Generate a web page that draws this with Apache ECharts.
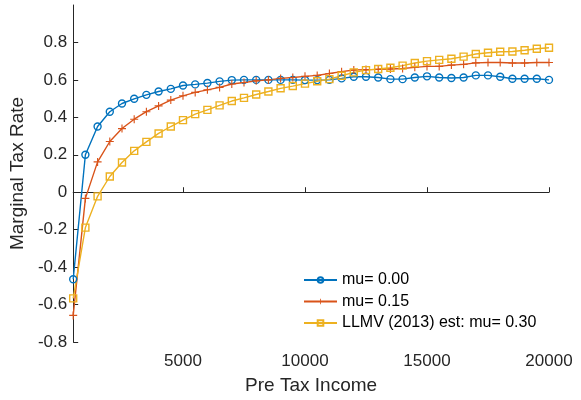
<!DOCTYPE html>
<html>
<head>
<meta charset="utf-8">
<script src="https://cdn.jsdelivr.net/npm/echarts@6/dist/echarts.min.js"></script>
<style>html,body{margin:0;padding:0;background:#fff;}#c{width:581px;height:400px;}</style>
</head>
<body>
<div id="c"></div>
<script>
// Pre-tax income grid (x values)
const income = [500,1000,1500,2000,2500,3000,3500,4000,4500,5000,
  5500,6000,6500,7000,7500,8000,8500,9000,9500,10000,
  10500,11000,11500,12000,12500,13000,13500,14000,14500,15000,
  15500,16000,16500,17000,17500,18000,18500,19000,19500,20000];
const mu000 = [-0.465,0.20,0.351,0.43,0.474,0.499,0.52,0.538,0.552,0.570,
  0.576,0.583,0.592,0.599,0.600,0.600,0.600,0.600,0.600,0.599,
  0.599,0.600,0.608,0.617,0.617,0.613,0.604,0.604,0.613,0.619,
  0.613,0.610,0.613,0.624,0.624,0.617,0.606,0.606,0.606,0.600];
const mu015 = [-0.658,-0.033,0.162,0.271,0.340,0.390,0.430,0.461,0.492,0.515,
  0.533,0.547,0.560,0.578,0.586,0.595,0.600,0.608,0.613,0.619,
  0.624,0.634,0.644,0.653,0.655,0.656,0.658,0.661,0.667,0.672,
  0.672,0.679,0.683,0.691,0.693,0.693,0.690,0.690,0.693,0.693];
const mu030 = [-0.567,-0.189,-0.022,0.084,0.159,0.221,0.269,0.314,0.351,0.385,
  0.417,0.440,0.464,0.487,0.504,0.522,0.538,0.555,0.567,0.580,
  0.593,0.604,0.622,0.640,0.652,0.658,0.665,0.676,0.690,0.700,
  0.707,0.713,0.724,0.738,0.745,0.750,0.752,0.758,0.766,0.772];
const seriesNames = ['mu= 0.00','mu= 0.15','LLMV (2013) est: mu= 0.30'];
const xTicks = [5000,10000,15000,20000];
const yTicks = [-0.8,-0.6,-0.4,-0.2,0,0.2,0.4,0.6,0.8];

const pair = (ys) => income.map((x,i) => [x, ys[i]]);
const axisCol = '#262626';
const font = 'Liberation Sans, Arial, Helvetica, sans-serif';
const plusPath = 'path://M4.3,0H5.7V4.3H10V5.7H5.7V10H4.3V5.7H0V4.3H4.3Z';

const chart = echarts.init(document.getElementById('c'), null, {renderer:'canvas'});
chart.setOption({
  animation: false,
  backgroundColor: '#fff',
  grid: {left: 72, right: 32, top: 5, bottom: 57, containLabel: false},
  xAxis: {
    type: 'value', min: 500, max: 20000,
    name: 'Pre Tax Income', nameLocation: 'middle', nameGap: 34,
    nameTextStyle: {fontFamily: font, fontSize: 19, color: axisCol},
    axisLine: {show: true, lineStyle: {color: axisCol, width: 1}},
    axisTick: {show: true, inside: true, length: 5, customValues: xTicks, lineStyle: {color: axisCol}},
    axisLabel: {customValues: xTicks, margin: 11, fontFamily: font, fontSize: 17, color: axisCol,
      formatter: v => String(Math.round(v))},
    splitLine: {show: false}
  },
  yAxis: {
    type: 'value', min: -0.8, max: 1.0,
    name: 'Marginal Tax Rate', nameLocation: 'middle', nameGap: 40, nameRotate: 90,
    nameTextStyle: {fontFamily: font, fontSize: 19, color: axisCol},
    axisLine: {show: true, lineStyle: {color: axisCol, width: 1}},
    axisTick: {show: true, inside: true, length: 5, customValues: yTicks, lineStyle: {color: axisCol}},
    axisLabel: {customValues: yTicks, margin: 6, fontFamily: font, fontSize: 17, color: axisCol,
      formatter: v => String(parseFloat(Number(v).toFixed(2)))},
    splitLine: {show: false}
  },
  legend: {
    orient: 'vertical', left: 298, top: 267,
    itemWidth: 33, itemHeight: 7, itemGap: 5.5,
    textStyle: {fontFamily: font, fontSize: 16, color: '#000'},
    backgroundColor: 'transparent', borderWidth: 0,
    data: seriesNames
  },
  series: [
    {name: seriesNames[0], type: 'line', data: pair(mu000),
     symbol: 'circle', symbolSize: 7, showAllSymbol: true,
     lineStyle: {color: '#0072BD', width: 1.4},
     itemStyle: {color: 'rgba(255,255,255,0)', borderColor: '#0072BD', borderWidth: 1.4}},
    {name: seriesNames[1], type: 'line', data: pair(mu015),
     symbol: plusPath, symbolSize: 8, showAllSymbol: true,
     lineStyle: {color: '#D95319', width: 1.4},
     itemStyle: {color: '#D95319', borderWidth: 0}},
    {name: seriesNames[2], type: 'line', data: pair(mu030),
     symbol: 'rect', symbolSize: 7, showAllSymbol: true,
     lineStyle: {color: '#EDB120', width: 1.4},
     itemStyle: {color: 'rgba(255,255,255,0)', borderColor: '#EDB120', borderWidth: 1.4}}
  ]
});
</script>
</body>
</html>
